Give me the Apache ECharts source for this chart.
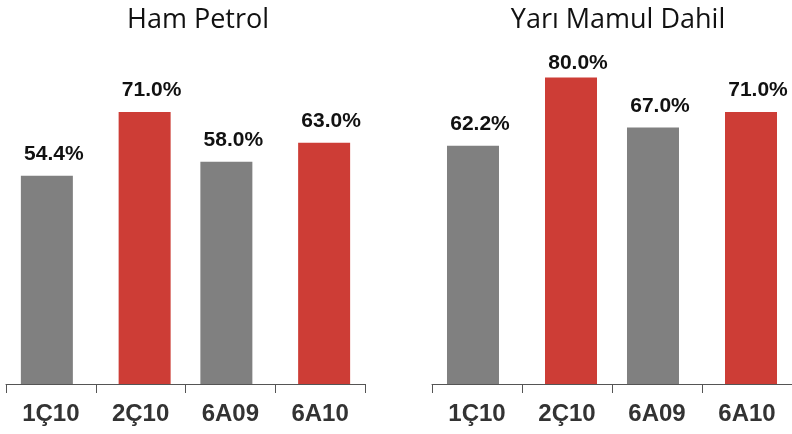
<!DOCTYPE html>
<html>
<head>
<meta charset="utf-8">
<script src="https://cdn.jsdelivr.net/npm/echarts@6/dist/echarts.min.js"></script>
<style>
html, body { margin: 0; padding: 0; background: #fff; }
#chart { width: 792px; height: 434px; }
</style>
</head>
<body>
<div id="chart"></div>
<script>
const categories = ['1Ç10', '2Ç10', '6A09', '6A10']
const titles = ['Ham Petrol', 'Yarı Mamul Dahil']
const hamPetrol = [54.4, 71.0, 58.0, 63.0]
const yariMamul = [62.2, 80.0, 67.0, 71.0]
// gray = 1Ç10, 6A09 ; red = 2Ç10, 6A10
const grayIdx = [0, 2]

const chart = echarts.init(document.getElementById('chart'))

function split (vals, wantGray) {
  return vals.map((v, i) => {
    if (grayIdx.includes(i) !== wantGray) return '-'
    // tallest bar: label squeezed closer (under the title)
    if (v >= 80) return { value: v, label: { distance: 4 } }
    return v
  })
}

const grids = [
  { left: 6, width: 359, top: 1, bottom: 50 },
  { left: 432, width: 360, top: 1, bottom: 50 }
]

const label = {
  show: true,
  position: 'top',
  distance: 11,
  offset: [7, 0],
  formatter: p => p.value.toFixed(1) + '%',
  fontFamily: '"Liberation Sans", Arial, sans-serif',
  fontWeight: 'bold',
  fontSize: 21,
  color: '#111'
}

const series = []
;[hamPetrol, yariMamul].forEach((vals, k) => {
  series.push({
    type: 'bar', xAxisIndex: k, yAxisIndex: k,
    data: split(vals, true), barWidth: 52, barGap: '-84.6%',
    itemStyle: { color: '#808080' }, label
  })
  series.push({
    type: 'bar', xAxisIndex: k, yAxisIndex: k,
    data: split(vals, false), barWidth: 52, barGap: '-84.6%',
    itemStyle: { color: '#cd3d36' }, label
  })
})

chart.setOption({
  animation: false,
  title: titles.map((t, k) => ({
    text: t,
    left: k === 0 ? 193 : 613,
    textAlign: 'center',
    top: 2,
    textStyle: { fontFamily: '"Open Sans", "Noto Sans", sans-serif', fontWeight: 'normal', fontSize: 27, color: '#111' }
  })),
  grid: grids,
  xAxis: grids.map((g, k) => ({
    type: 'category',
    gridIndex: k,
    data: categories,
    axisLine: { lineStyle: { color: '#555', width: 1 } },
    axisTick: { show: true, length: 9, lineStyle: { color: '#555' } },
    axisLabel: {
      margin: 18,
      fontFamily: '"Liberation Sans", Arial, sans-serif',
      fontWeight: 'bold',
      fontSize: 24,
      color: '#333'
    }
  })),
  yAxis: grids.map((g, k) => ({
    type: 'value',
    gridIndex: k,
    min: 0,
    max: 100,
    show: false
  })),
  series
})
</script>
</body>
</html>
